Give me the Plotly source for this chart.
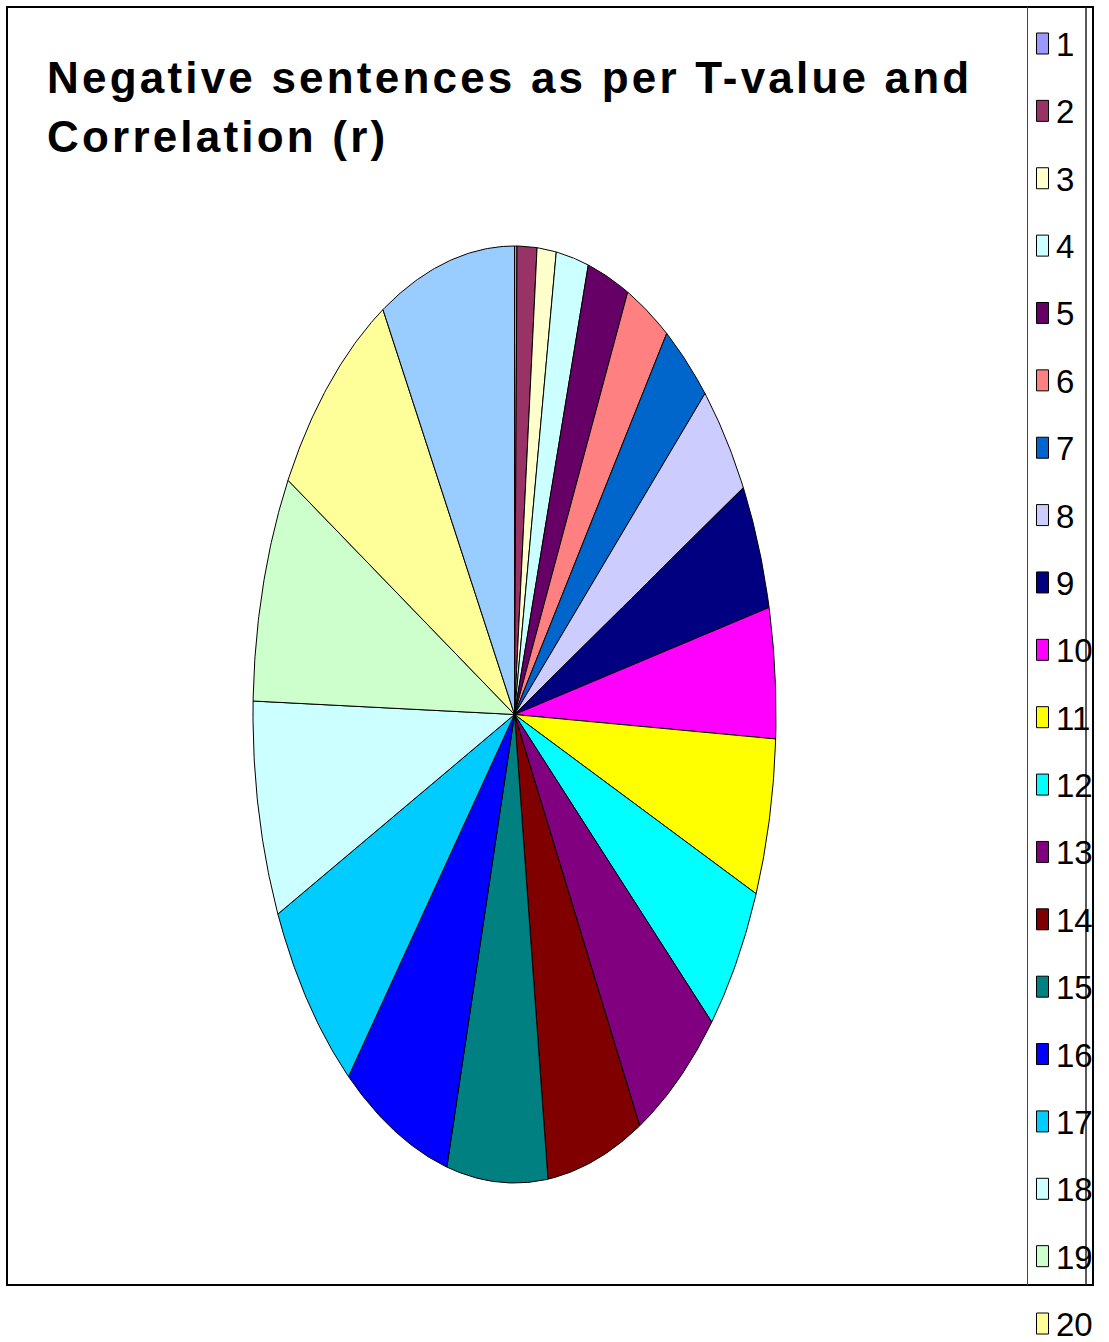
import numpy as np
import plotly.graph_objects as go

# ---- data ----
labels = [str(i) for i in range(1, 22)]
values = [0.55, 4.4, 4.24, 7.2, 9.26, 9.94, 11.16, 14.29, 15.75, 16.2, 19.5,
          18.54, 20.36, 21.25, 22.35, 24.4, 25.4, 26.85, 28.35, 29.8, 30.2]
colors = ["#9999FF", "#993366", "#FFFFCC", "#CCFFFF", "#660066", "#FF8080",
          "#0066CC", "#CCCCFF", "#000080", "#FF00FF", "#FFFF00", "#00FFFF",
          "#800080", "#800000", "#008080", "#0000FF", "#00CCFF", "#CCFFFF",
          "#CCFFCC", "#FFFF99", "#99CCFF"]
title_lines = ["Negative sentences as per T-value and", "Correlation (r)"]

W, H = 1109, 1342
FONT = "Liberation Sans, Arial, sans-serif"

# ellipse geometry (pixel space)
cx, cy, ra, rb = 514.5, 714.5, 261.5, 468.5

fig = go.Figure()
total = float(sum(values))
start = 0.0
for lab, val, col in zip(labels, values, colors):
    span = val / total * 2 * np.pi
    n = max(3, int(np.degrees(span) * 2) + 2)
    t = np.linspace(start, start + span, n)
    xs = np.concatenate([[cx], cx + ra * np.sin(t), [cx]])
    ys = np.concatenate([[cy], cy - rb * np.cos(t), [cy]])
    fig.add_trace(go.Scatter(x=xs, y=ys, mode="lines", fill="toself",
                             fillcolor=col, line=dict(color="black", width=1),
                             name=lab, showlegend=False, hoverinfo="name"))
    start += span

shapes = []
annotations = []
# outer frame
shapes.append(dict(type="rect", x0=7, y0=7, x1=1093, y1=1285,
                   line=dict(color="black", width=2), layer="above"))
# legend box lines
shapes.append(dict(type="line", x0=1027.5, y0=7, x1=1027.5, y1=1285,
                   line=dict(color="#444444", width=1), layer="above"))
shapes.append(dict(type="line", x0=1086, y0=7, x1=1086, y1=1285,
                   line=dict(color="#222222", width=1.5), layer="above"))

# legend entries
pitch = 67.37
for i, (lab, col) in enumerate(zip(labels, colors)):
    yc = 43.5 + i * pitch
    if yc > H:
        break
    shapes.append(dict(type="rect", x0=1036.5, x1=1048.5, y0=yc - 10.5, y1=yc + 10.5,
                       fillcolor=col, line=dict(color="black", width=1),
                       layer="above"))
    annotations.append(dict(x=1054, y=yc + 1, xref="x", yref="y", text=lab,
                            showarrow=False, xanchor="left", yanchor="middle",
                            font=dict(family=FONT, size=33, color="black")))

for k, (line, yl) in enumerate(zip(title_lines, [77, 136])):
    annotations.append(dict(
        x=45, y=yl, xref="x", yref="y",
        text='<span style="letter-spacing:3.2px"><b>' + line + '</b></span>',
        showarrow=False, xanchor="left", yanchor="middle", align="left",
        font=dict(family=FONT, size=44, color="black")))

fig.update_layout(
    width=W, height=H,
    margin=dict(l=0, r=0, t=0, b=0),
    paper_bgcolor="white", plot_bgcolor="white",
    xaxis=dict(range=[0, W], visible=False, fixedrange=True),
    yaxis=dict(range=[H, 0], visible=False, fixedrange=True),
    shapes=shapes, annotations=annotations, showlegend=False,
)

fig.write_html("out.html")
